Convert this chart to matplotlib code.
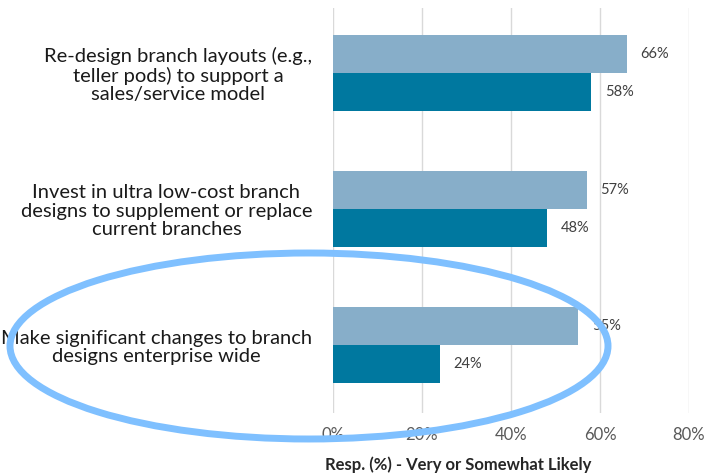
import matplotlib
matplotlib.use("Agg")
import matplotlib.pyplot as plt
from matplotlib.patches import Ellipse
import numpy as np

plt.rcParams['font.family'] = ['Lato', 'DejaVu Sans']

categories = [
    "Re-design branch layouts (e.g.,\nteller pods) to support a\nsales/service model",
    "Invest in ultra low-cost branch\ndesigns to supplement or replace\ncurrent branches",
    "Make significant changes to branch\ndesigns enterprise wide",
]
series_light = [66, 57, 55]
series_dark = [58, 48, 24]
xticks = [0, 20, 40, 60, 80]
xtick_labels = ["0%", "20%", "40%", "60%", "80%"]
xlabel = "Resp. (%) - Very or Somewhat Likely"

W, H = 708, 476
fig = plt.figure(figsize=(W / 100, H / 100), dpi=100)
ax = fig.add_axes([333 / W, 1 - 413 / H, (689 - 333) / W, (413 - 8) / H])

y = np.arange(len(categories))
bh = 0.28
c_light = "#87AEC9"
c_dark = "#00789F"
ax.barh(y - bh / 2, series_light, height=bh, color=c_light, zorder=2)
ax.barh(y + bh / 2, series_dark, height=bh, color=c_dark, zorder=2)

for yi, v in zip(y - bh / 2, series_light):
    ax.annotate(f"{v}%", (v, yi), xytext=(10, 0), textcoords="offset points",
                va="center", ha="left", fontsize=10.5, color="#404040")
for yi, v in zip(y + bh / 2, series_dark):
    ax.annotate(f"{v}%", (v, yi), xytext=(10, 0), textcoords="offset points",
                va="center", ha="left", fontsize=10.5, color="#404040")

ax.set_xlim(0, 80)
ax.set_ylim(2.5, -0.48)
ax.set_xticks(xticks)
ax.set_xticklabels(xtick_labels, fontsize=12, color="#595959")
ax.set_yticks(y)
ax.set_yticklabels(categories, fontsize=14.5, color="#1a1a1a",
                   multialignment="center", linespacing=1.1)
ax.tick_params(axis="both", length=0)
ax.tick_params(axis="x", pad=10)
ax.tick_params(axis="y", pad=15)
ax.grid(axis="x", color="#D9D9D9", linewidth=1, zorder=0)
ax.set_axisbelow(True)
for s in ax.spines.values():
    s.set_visible(False)

fig.text(458 / W, 1 - 465 / H, xlabel, ha="center", va="center",
         fontsize=12, fontweight="bold", color="#262626")

ell = Ellipse((309 / W, 1 - 346 / H), 598 / W, 186 / H,
              transform=fig.transFigure, fill=False,
              edgecolor="#7FC0FF", linewidth=5, zorder=10)
fig.add_artist(ell)

fig.savefig("out.png", dpi=100)
